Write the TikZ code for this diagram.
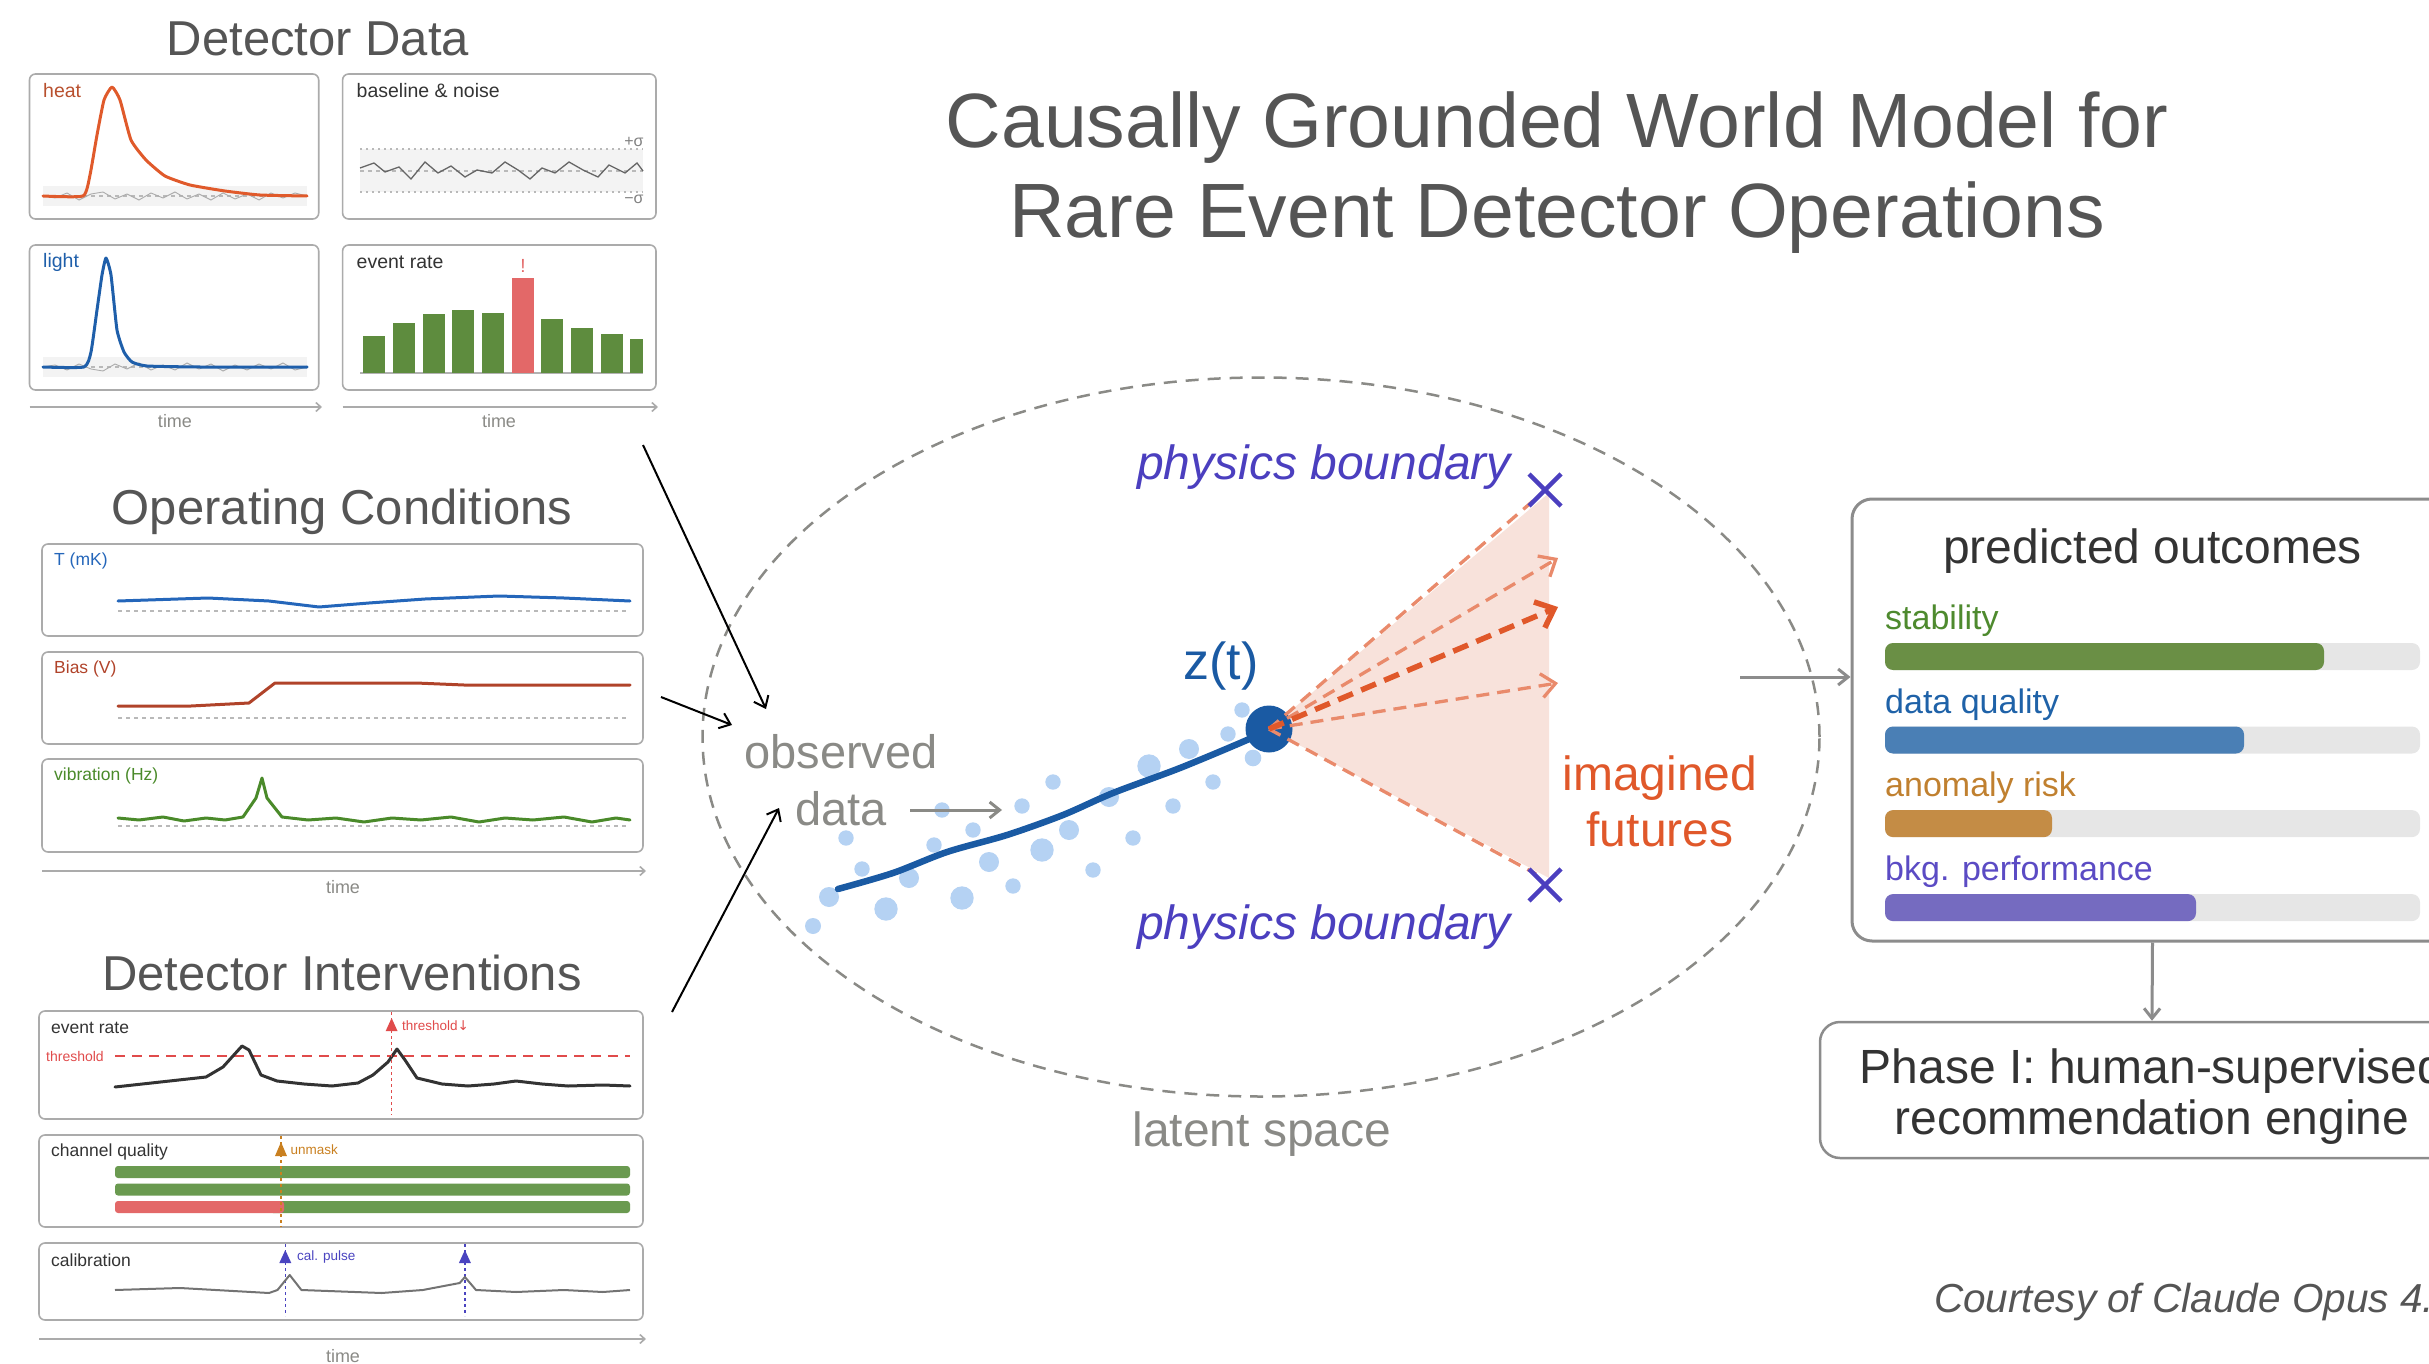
\documentclass[tikz,border=0pt]{standalone}
\usepackage{fontspec}
\setmainfont{Liberation Sans}
\usetikzlibrary{shapes.geometric,arrows.meta}

\definecolor{titlegray}{HTML}{555555}
\definecolor{textdark}{HTML}{333333}
\definecolor{softgray}{HTML}{8A8A86}
\definecolor{framegray}{HTML}{ABABAB}
\definecolor{boxgray}{HTML}{8C8C8C}
\definecolor{bandgray}{HTML}{F3F3F3}
\definecolor{heatred}{HTML}{E05A2B}
\definecolor{heatlabel}{HTML}{B8502E}
\definecolor{lightblue}{HTML}{1F5FAA}
\definecolor{barsgreen}{HTML}{5E8C3E}
\definecolor{barsred}{HTML}{E36868}
\definecolor{tempblue}{HTML}{2466BA}
\definecolor{biasred}{HTML}{B0432A}
\definecolor{vibgreen}{HTML}{4A8A2A}
\definecolor{maskgreen}{HTML}{6A9A50}
\definecolor{markred}{HTML}{E04B4B}
\definecolor{unmaskorange}{HTML}{C98020}
\definecolor{calpurple}{HTML}{4A44C0}
\definecolor{zblue}{HTML}{1A5AA3}
\definecolor{dotblue}{HTML}{B5D2F3}
\definecolor{conefill}{HTML}{F8E2DB}
\definecolor{futureorange}{HTML}{E98A6B}
\definecolor{futurered}{HTML}{E0582A}
\definecolor{boundpurple}{HTML}{4B3FBF}
\definecolor{trackgray}{HTML}{E6E6E6}
\definecolor{stabbar}{HTML}{6A8F45}
\definecolor{stabtxt}{HTML}{4E8A2E}
\definecolor{dqbar}{HTML}{4A7FB5}
\definecolor{dqtxt}{HTML}{1F62A8}
\definecolor{anobar}{HTML}{C48C45}
\definecolor{anotxt}{HTML}{C0802F}
\definecolor{bkgbar}{HTML}{756BC0}
\definecolor{bkgtxt}{HTML}{5B4BC4}

\tikzset{>={Straight Barb[length=10pt,width=16pt]}}
\tikzset{
  panel/.style={draw=framegray, line width=1.6pt, rounded corners=6pt},
  sectitle/.style={text=titlegray, inner sep=0pt, font=\fontsize{49}{58}\selectfont},
  paneltext/.style={anchor=west, inner sep=0pt, font=\fontsize{19.5}{23}\selectfont},
  condtext/.style={anchor=west, inner sep=0pt, font=\fontsize{17.5}{21}\selectfont},
  tinytext/.style={anchor=west, inner sep=0pt, font=\fontsize{13.5}{16}\selectfont},
  bigtext/.style={inner sep=0pt, font=\fontsize{48}{56}\selectfont},
  outtext/.style={anchor=west, inner sep=0pt, font=\fontsize{34}{40}\selectfont},
  timeaxis/.style={draw=framegray, line width=1.6pt, -{Straight Barb[length=5pt,width=9pt]}},
  timetext/.style={text=softgray, inner sep=0pt, font=\fontsize{18}{21}\selectfont},
  zeroline/.style={draw=gray!55, line width=1.2pt, dash pattern=on 4pt off 4pt},
  dotline/.style={draw=gray!55, line width=1.2pt, dash pattern=on 1.5pt off 4.5pt},
  noise/.style={draw=gray!65, line width=0.9pt},
  marker/.style={line width=1.5pt, dash pattern=on 3pt off 3pt},
  trace/.style={line width=3pt, line join=round, line cap=round},
  future/.style={draw=futureorange, line width=3.3pt, dash pattern=on 13pt off 8pt},
  inarrow/.style={->, draw=black, line width=2pt},
  grayarrow/.style={->, draw=boxgray, line width=3pt},
}

\begin{document}
\begin{tikzpicture}[x=1pt,y=-1pt]
  \useasboundingbox (0,0) rectangle (2429,1364);
  \clip (0,0) rectangle (2429,1364);

  % title
  \node[text=titlegray, align=center, inner sep=0pt, font=\fontsize{77}{90}\selectfont] (title) at (1557,173)
    {Causally Grounded World Model for\\Rare Event Detector Operations};

  % detector data
  \node[sectitle] (ddtitle) at (318,39) {Detector Data};
  % heat
  \draw[panel] (29.5,74) rectangle (318.7,219);
  \fill[bandgray] (43,186) rectangle (307,206);
  \draw[zeroline] (43,196) -- (307,196);
  \draw[noise] (43,196) \foreach \dy [count=\i] in {2,-3,4,-2,-4,3,-2,4,-3,2,-4,3,-2,4,-3,3,-2,4,-3,2,-3,0} { -- (43+12*\i,196+\dy) };
  \draw[trace, heatred] plot[smooth, tension=0.3] coordinates {(43,196) (83,196) (90,175) (97,135) (104,100) (112,87) (120,100) (131,140) (146,160) (165,176) (190,185) (225,191) (260,195) (307,196)};
  \node[paneltext, text=heatlabel] (heatlbl) at (43,91) {heat};
  % baseline and noise
  \draw[panel] (342.6,74) rectangle (656,219);
  \fill[bandgray] (360,149) rectangle (643,192);
  \draw[dotline] (360,149) -- (643,149);
  \draw[dotline] (360,192) -- (643,192);
  \draw[zeroline] (360,171) -- (643,171);
  \draw[draw=gray!80!black, line width=1.3pt] plot coordinates {(360,168) (374,163) (385,172) (399,167) (411,179) (425,162) (438,173) (451,166) (465,177) (477,170) (492,173) (505,162) (518,170) (530,179) (542,168) (555,173) (569,162) (583,170) (598,177) (609,165) (625,173) (637,163) (643,171)};
  \node[paneltext, text=textdark] (noiselbl) at (356.5,91) {baseline \& noise};
  \node[inner sep=0pt, text=gray, font=\fontsize{16}{19}\selectfont] (plussig) at (634,142) {+σ};
  \node[inner sep=0pt, text=gray, font=\fontsize{16}{19}\selectfont] (minussig) at (634,199) {−σ};
  % light
  \draw[panel] (29.5,245) rectangle (318.7,390);
  \fill[bandgray] (43,357) rectangle (307,377);
  \draw[zeroline] (43,367) -- (307,367);
  \draw[noise] (43,367) \foreach \dy [count=\i] in {-2,3,-3,2,4,-3,2,-4,3,-2,3,-4,2,-3,4,-2,3,-3,2,-4,3,0} { -- (43+12*\i,367+\dy) };
  \draw[trace, lightblue] plot[smooth, tension=0.3] coordinates {(43,367) (84,367) (91,352) (97,310) (102,275) (106,258) (111,275) (117,330) (124,352) (132,362) (147,366) (200,367) (307,367)};
  \node[paneltext, text=lightblue] (lightlbl) at (43,262) {light};
  % event rate
  \draw[panel] (342.6,245) rectangle (656,390);
  \draw[draw=gray!60, line width=1.2pt] (360,373) -- (643,373);
  \foreach \x/\w/\t in {363/22/336, 393/22/323, 423/22/314, 452/22/310, 482/22/313, 541/22/319, 571/22/328, 601/22/334, 630/13/339}
    \fill[barsgreen] (\x,373) rectangle ++(\w,\t-373);
  \fill[barsred] (512,373) rectangle (534,278);
  \node[inner sep=0pt, text=barsred, font=\fontsize{19}{22}\selectfont] (bang) at (523,266) {!};
  \node[paneltext, text=textdark] (ratelbl) at (356.5,262) {event rate};
  % time axes
  \draw[timeaxis] (29.5,407) -- (322,407);
  \draw[timeaxis] (342.6,407) -- (658,407);
  \node[timetext] (ddtime1) at (175,421) {time};
  \node[timetext] (ddtime2) at (499,421) {time};

  % operating conditions
  \node[sectitle] (octitle) at (342,512) {Operating Conditions};
  \draw[panel] (42,544) rectangle (643,636);
  \draw[panel] (42,652) rectangle (643,744);
  \draw[panel] (42,759) rectangle (643,852);
  \foreach \y in {611,718,826}
    \draw[zeroline] (118,\y) -- (627,\y);
  \draw[trace, tempblue] (118,601) -- (208,598) -- (269,601) -- (319,607) -- (369,603) -- (425,599) -- (499,596) -- (564,598) -- (630,601);
  \draw[trace, biasred] (118,706) -- (191,706) -- (249,703) -- (275,683) -- (416,683) -- (464,685) -- (630,685);
  \draw[trace, vibgreen] plot coordinates {(118,818) (139,820) (163,817) (184,821) (206,818) (225,820) (243,817) (256,798) (262,778) (267,798) (282,817) (308,820) (336,818) (364,822) (392,818) (421,820) (451,817) (479,822) (505,818) (533,820) (564,817) (592,822) (616,818) (630,820)};
  \node[condtext, text=tempblue] (templbl) at (54,561) {T (mK)};
  \node[condtext, text=biasred] (biaslbl) at (54,669) {Bias (V)};
  \node[condtext, text=vibgreen] (viblbl) at (54,776) {vibration (Hz)};
  \draw[timeaxis] (42,871) -- (646,871);
  \node[timetext] (octime) at (343,887) {time};

  % detector interventions
  \node[sectitle] (dititle) at (342,973) {Detector Interventions};
  % event rate with threshold
  \draw[panel] (39,1011) rectangle (643,1119);
  \draw[draw=markred, line width=2pt, dash pattern=on 10pt off 7pt] (115,1056) -- (630,1056);
  \draw[trace, textdark] (115,1087) -- (206,1077) -- (223,1067) -- (242,1046) -- (249,1050) -- (261,1075) -- (277,1081) -- (304,1084) -- (332,1086) -- (358,1083) -- (373,1075) -- (388,1062) -- (397,1049) -- (405,1060) -- (417,1078) -- (442,1084) -- (468,1086) -- (494,1084) -- (516,1081) -- (542,1084) -- (568,1086) -- (603,1085) -- (630,1086);
  \draw[marker, draw=markred] (391.6,1012) -- (391.6,1115);
  \fill[markred] (391.6,1018) -- (397.5,1031) -- (385.7,1031) -- cycle;
  \node[condtext, text=textdark] (erlbl) at (51,1028) {event rate};
  \node[tinytext, text=markred, font=\fontsize{14}{17}\selectfont] (thrlbl) at (46,1056) {threshold};
  \node[tinytext, text=markred] (thrdown) at (402,1026) {threshold\fontspec{DejaVu Sans}↓};
  % channel quality
  \draw[panel] (39,1135) rectangle (643,1227);
  \foreach \y in {1172,1189.5}
    \fill[maskgreen, rounded corners=3pt] (115,\y-6) rectangle (630,\y+6);
  \fill[maskgreen, rounded corners=3pt] (270,1201) rectangle (630,1213);
  \fill[barsred, rounded corners=3pt] (115,1201) rectangle (284,1213);
  \fill[barsred] (270,1201) rectangle (281,1213);
  \draw[marker, draw=unmaskorange] (281,1136) -- (281,1227);
  \fill[unmaskorange] (281,1142) -- (287,1156) -- (275,1156) -- cycle;
  \node[condtext, text=textdark] (cqlbl) at (51,1152) {channel quality};
  \node[tinytext, text=unmaskorange] (unmasklbl) at (290.5,1150) {unmask};
  % calibration
  \draw[panel] (39,1243) rectangle (643,1320);
  \foreach \x in {285.3,464.9} {
    \draw[marker, draw=calpurple] (\x,1244) -- (\x,1316);
    \fill[calpurple] (\x,1250) -- (\x+6,1263) -- (\x-6,1263) -- cycle;
  }
  \draw[draw=gray!90!black, line width=2pt, line join=round] (115,1290) -- (180,1288) -- (269,1293) -- (277.5,1290) -- (289.7,1275) -- (301.4,1290) -- (381.6,1293) -- (422.8,1290) -- (459.7,1283) -- (464.9,1277) -- (476,1290) -- (516,1292) -- (563.8,1290) -- (602.8,1292) -- (630,1290);
  \node[condtext, text=textdark] (callbl) at (51,1260) {calibration};
  \node[tinytext, text=calpurple] (pulselbl) at (297,1257) {cal. pulse};
  \draw[timeaxis] (39,1339) -- (646,1339);
  \node[timetext] (ditime) at (343,1356) {time};

  % latent space
  \node[ellipse, draw=softgray, line width=2.5pt, dash pattern=on 13pt off 9pt, minimum width=1117pt, minimum height=719pt, inner sep=0pt] (latent) at (1261,737) {};
  \node[bigtext, text=softgray] (latentlbl) at (1262,1134) {latent space};
  \node[text=softgray, align=center, inner sep=0pt, font=\fontsize{47}{57}\selectfont] (obs) at (841,780) {observed\\data};
  % inputs into the observed data
  \coordinate (ddout) at (643,445);
  \coordinate (ocout) at (661,697);
  \coordinate (diout) at (672,1012);
  \coordinate (obsin1) at (766,709);
  \coordinate (obsin2) at (732,725);
  \coordinate (obsin3) at (779,808);
  \draw[inarrow] (ddout) -- (obsin1);
  \draw[inarrow] (ocout) -- (obsin2);
  \draw[inarrow] (diout) -- (obsin3);
  % observed points and trajectory
  \foreach \x/\y/\r in {813/926/8, 829/897/10, 846/838/7.7, 862/869/7.7, 886/909/11.7, 909/878/10, 934/845/7.7, 942/810/7.7, 962/898/11.7, 973/830/7.7, 989/862/10, 1013/886/7.7, 1022/806/7.7, 1042/850/11.7, 1053/782/7.7, 1069/830/10, 1093/870/7.7, 1109/797/10, 1133/838/7.7, 1149/766/11.7, 1173/806/7.7, 1189/749/10, 1213/782/7.7, 1228/734/7.7, 1242/710/7.7, 1253/758/8.3}
    \fill[dotblue] (\x,\y) circle (\r);
  \coordinate (datatip) at (910,810);
  \coordinate (trajin) at (1002,810);
  \draw[->, draw=softgray, line width=3pt] (datatip) -- (trajin);
  % cone of futures
  \coordinate (xtop) at (1545,490);
  \coordinate (xbot) at (1545,885);
  \coordinate (fut1) at (1558,558);
  \coordinate (fut2) at (1558,607);
  \coordinate (fut3) at (1558,683);
  \fill[conefill] (1269,729) -- (1549,493) -- (1549,878) -- cycle;
  \draw[draw=zblue, line width=6.5pt, line cap=round] plot[smooth] coordinates {(838,889) (893,873) (947,852) (1007,835) (1063,815) (1113,793) (1180,768) (1247,740) (1269,729)};
  \node[circle, fill=zblue, minimum size=47pt, inner sep=0pt] (zt) at (1269,729) {};
  \node[inner sep=0pt, text=zblue, font=\fontsize{52}{60}\selectfont] (ztlbl) at (1221,666) {z(t)};
  \draw[future] (zt.center) -- (1541,494);
  \draw[future] (zt.center) -- (1536,874);
  \draw[future, -{Straight Barb[length=14pt,width=24pt]}] (zt.center) -- (fut1);
  \draw[future, -{Straight Barb[length=14pt,width=24pt]}] (zt.center) -- (fut3);
  \draw[future, draw=futurered, line width=5.5pt, dash pattern=on 16pt off 9pt, -{Straight Barb[length=16pt,width=28pt]}] (zt.center) -- (fut2);
  % physics boundaries
  \foreach \p in {xtop,xbot}
    \draw[draw=boundpurple, line width=4.5pt] (\p) ++(-16,-16) -- ++(32,32) ++(-32,0) -- ++(32,-32);
  \node[bigtext, text=boundpurple, font=\itshape\fontsize{48}{56}\selectfont] (bndtop) at (1324,467) {physics boundary};
  \node[bigtext, text=boundpurple, font=\itshape\fontsize{48}{56}\selectfont] (bndbot) at (1324,927) {physics boundary};
  \node[text=futurered, align=center, inner sep=0pt, font=\fontsize{48}{56}\selectfont] (futlbl) at (1660,801) {imagined\\futures};

  % predicted outcomes
  \node[draw=boxgray, line width=3pt, rounded corners=20pt, minimum width=601pt, minimum height=442pt] (outbox) at (2152.5,720) {};
  \node[bigtext, text=textdark] (outtitle) at (2152.5,551) {predicted outcomes};
  \foreach \y/\len/\barcol/\txtcol/\txt [count=\k] in {656.5/2324/stabbar/stabtxt/stability, 740/2244/dqbar/dqtxt/data quality, 823.6/2052/anobar/anotxt/anomaly risk, 907.6/2196/bkgbar/bkgtxt/bkg. performance} {
    \fill[trackgray, rounded corners=8pt] (1885,\y-13.5) rectangle (2420,\y+13.5);
    \fill[\barcol, rounded corners=8pt] (1885,\y-13.5) rectangle (\len,\y+13.5);
    \node[outtext, text=\txtcol] (outlbl\k) at (1885,\y-35.5) {\txt};
  }
  \coordinate (latout) at (1740,677);
  \draw[grayarrow] (latout) -- (latout -| outbox.west);

  % recommendation engine
  \node[draw=boxgray, line width=2.5pt, rounded corners=20pt, minimum width=664pt, minimum height=136pt] (phase) at (2152,1090) {};
  \node[text=textdark, align=center, inner sep=0pt, font=\fontsize{48}{51}\selectfont] (phasetxt) at (2152,1097)
    {Phase I: human-supervised\\recommendation engine};
  \draw[grayarrow] (outbox.south) -- (phase.north);

  \node[anchor=west, inner sep=0pt, text=titlegray, font=\itshape\fontsize{40.5}{48}\selectfont] (credit) at (1934,1302) {Courtesy of Claude Opus 4.5};
\end{tikzpicture}
\end{document}
